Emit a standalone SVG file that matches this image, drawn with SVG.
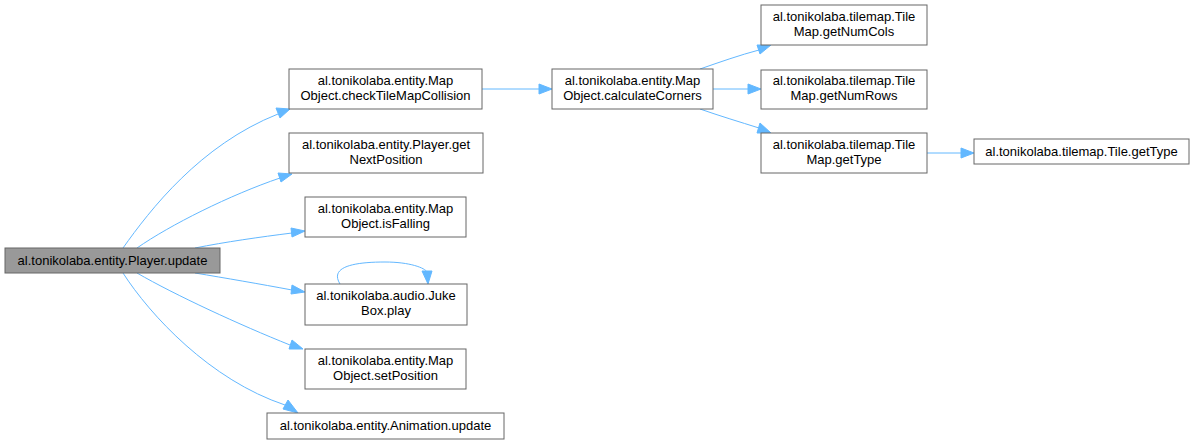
<svg xmlns="http://www.w3.org/2000/svg" width="1195" height="445" viewBox="0 0 1195 445">
<style>
.n rect{fill:#fff;stroke:#666;stroke-width:1}
.n text{font-family:"Liberation Sans",Arial,sans-serif;font-size:13px;fill:#000;text-anchor:middle}
.e path{fill:none;stroke:#63b8ff;stroke-width:1}
.e polygon{fill:#63b8ff;stroke:#63b8ff}
</style>
<rect width="1195" height="445" fill="#fff"/>
<g class="e" id="edges">
<path d="M123,248 C150,210 200,145 278,114"/><polygon points="276,108 290,109 280,118"/>
<path d="M137,248 C170,225 230,195 280,178"/><polygon points="278,173 292,174 281,182"/>
<path d="M195,248 C225,242 260,237 292,233"/><polygon points="291,228 305,231 292,237"/>
<path d="M195,273 C225,278 260,284 292,290"/><polygon points="292,285 305,292 291,294"/>
<path d="M137,273 C175,295 240,325 290,345"/><polygon points="292,340 303,349 289,349"/>
<path d="M123,273 C150,315 210,380 285,405"/><polygon points="288,400 298,413 283,409"/>
<path d="M340,284 C330,268 350,262 385,262 C410,262 425,268 427,272"/><polygon points="422,271 428,284 432,271"/>
<path d="M482,89 L539,89"/><polygon points="539,84 552,89 539,94"/>
<path d="M700,69 C720,62 740,55 759,50"/><polygon points="757,45 771,45 760,54"/>
<path d="M713,89 L748,89"/><polygon points="748,84 761,89 748,94"/>
<path d="M700,109 C720,116 740,122 759,128"/><polygon points="760,123 771,133 757,133"/>
<path d="M927,153 L961,153"/><polygon points="961,148 974,153 961,158"/>
</g>
<g class="n" id="player_update"><rect x="5" y="248" width="215" height="25" style="fill:#999"/><text x="112.5" y="265">al.tonikolaba.entity.Player.update</text></g>
<g class="n" id="checkTileMapCollision"><rect x="289" y="69" width="193" height="40"/><text x="385.5" y="85">al.tonikolaba.entity.Map</text><text x="385.5" y="100">Object.checkTileMapCollision</text></g>
<g class="n" id="getNextPosition"><rect x="289" y="133" width="194" height="40"/><text x="386" y="149">al.tonikolaba.entity.Player.get</text><text x="386" y="164">NextPosition</text></g>
<g class="n" id="isFalling"><rect x="305" y="197" width="161" height="40"/><text x="385.5" y="213">al.tonikolaba.entity.Map</text><text x="385.5" y="228">Object.isFalling</text></g>
<g class="n" id="jukebox_play"><rect x="305" y="284" width="162" height="41"/><text x="386" y="300">al.tonikolaba.audio.Juke</text><text x="386" y="315">Box.play</text></g>
<g class="n" id="setPosition"><rect x="305" y="349" width="161" height="40"/><text x="385.5" y="365">al.tonikolaba.entity.Map</text><text x="385.5" y="380">Object.setPosition</text></g>
<g class="n" id="animation_update"><rect x="267" y="413" width="237" height="26"/><text x="385.5" y="430">al.tonikolaba.entity.Animation.update</text></g>
<g class="n" id="calculateCorners"><rect x="552" y="69" width="161" height="40"/><text x="632.5" y="85">al.tonikolaba.entity.Map</text><text x="632.5" y="100">Object.calculateCorners</text></g>
<g class="n" id="getNumCols"><rect x="761" y="5" width="166" height="40"/><text x="844" y="21">al.tonikolaba.tilemap.Tile</text><text x="844" y="36">Map.getNumCols</text></g>
<g class="n" id="getNumRows"><rect x="761" y="70" width="166" height="39"/><text x="844" y="85">al.tonikolaba.tilemap.Tile</text><text x="844" y="100">Map.getNumRows</text></g>
<g class="n" id="tilemap_getType"><rect x="761" y="133" width="166" height="40"/><text x="844" y="149">al.tonikolaba.tilemap.Tile</text><text x="844" y="164">Map.getType</text></g>
<g class="n" id="tile_getType"><rect x="974" y="139" width="215" height="25"/><text x="1081.5" y="156">al.tonikolaba.tilemap.Tile.getType</text></g>
</svg>
